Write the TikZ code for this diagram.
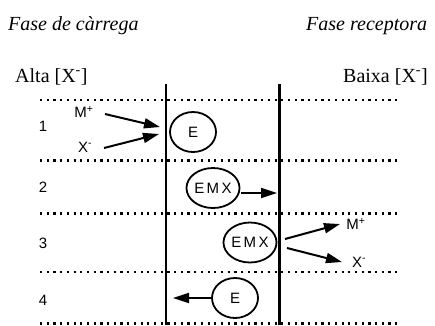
\documentclass[tikz,border=0pt]{standalone}
\usepackage{fontspec}
\setmainfont{Liberation Serif}
\setsansfont{Liberation Sans}
\usetikzlibrary{arrows.meta,shapes.geometric}
\begin{document}
\begin{tikzpicture}[x=1pt,y=-1pt,
  phase/.style={font=\fontsize{20}{20}\selectfont\itshape, anchor=base west, inner sep=0},
  conc/.style={font=\fontsize{20}{20}\selectfont, anchor=base west, inner sep=0},
  rownum/.style={font=\sffamily\fontsize{15}{15}\selectfont, inner sep=0},
  ion/.style={font=\sffamily\fontsize{15}{15}\selectfont, inner sep=0},
  carrier/.style={draw, ellipse, line width=1.8pt, minimum width=46pt,
    minimum height=40pt, inner sep=0, font=\sffamily\fontsize{15}{15}\selectfont},
  level/.style={line width=2.2pt, dash pattern=on 2.2pt off 4.5pt},
  membrane/.style={line width=2.4pt},
  flux/.style={line width=2pt, -{Triangle[length=16pt,width=10pt]}}
]
\useasboundingbox (0,0) rectangle (435,325);

% phase headings and concentration labels
\node[phase] (fc) at (8,30) {Fase de càrrega};
\node[phase] (fr) at (306,30) {Fase receptora};
\node[conc] (alta) at (15,82) {Alta [X\textsuperscript{-}]};
\node[conc] (baixa) at (343,82) {Baixa [X\textsuperscript{-}]};

% dotted level lines
\foreach \yy in {100,160.5,213.5,272,323.5}
  \draw[level] (40,\yy) -- (401,\yy);

% membrane boundaries
\draw[membrane] (166,84) -- (166,325);
\draw[membrane] (279.5,84) -- (279.5,325);

% step numbers
\node[rownum] (r1) at (43,126) {1};
\node[rownum] (r2) at (43,187) {2};
\node[rownum] (r3) at (43,243) {3};
\node[rownum] (r4) at (43,300) {4};

% carrier states
\newcommand{\emxlabel}{E\kern2.5pt M\kern2.5pt X}
\node[carrier] (e1) at (193,132) {E};
\node[carrier] (emx2) at (213,188) {\emxlabel};
\node[carrier] (emx3) at (250,242.5) {\emxlabel};
\node[carrier] (e4) at (235,298) {E};

% step 1: ions enter from the loading phase
\node[ion] (m1) at (84,112) {M\textsuperscript{+}};
\node[ion] (x1) at (85,147) {X\textsuperscript{-}};
\coordinate (m1t) at (105,114);
\coordinate (m1h) at (160,127);
\coordinate (x1t) at (104,148);
\coordinate (x1h) at (159,134);
\draw[flux] (m1t) -- (m1h);
\draw[flux] (x1t) -- (x1h);

% step 2: complex crosses the membrane
\coordinate (c2t) at (241,193);
\coordinate (c2h) at (277,193);
\draw[flux] (c2t) -- (c2h);

% step 3: ions released to the receiving phase
\node[ion] (m3) at (356,224) {M\textsuperscript{+}};
\node[ion] (x3) at (359,262) {X\textsuperscript{-}};
\coordinate (m3t) at (285,239);
\coordinate (m3h) at (340,224);
\coordinate (x3t) at (287,248);
\coordinate (x3h) at (342,262);
\draw[flux] (m3t) -- (m3h);
\draw[flux] (x3t) -- (x3h);

% step 4: free carrier returns
\coordinate (c4h) at (173,298);
\draw[flux] (e4.west) -- (c4h);
\end{tikzpicture}
\end{document}
